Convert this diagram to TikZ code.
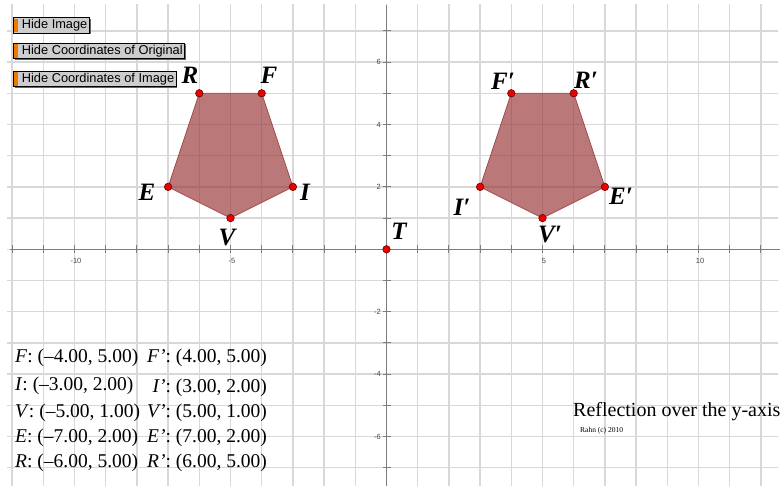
\documentclass[tikz,border=0pt]{standalone}
\usepackage{fontspec}
\setmainfont{Liberation Serif}
\setsansfont{Liberation Sans}
\usetikzlibrary{shadows}
\definecolor{gridc}{RGB}{216,216,216}
\definecolor{axisc}{RGB}{125,125,125}
\definecolor{polyc}{RGB}{150,50,50}
\definecolor{ptfill}{RGB}{235,0,0}
\definecolor{ptdraw}{RGB}{110,0,0}
\definecolor{btnfill}{RGB}{205,205,205}
\definecolor{btnorange}{RGB}{240,120,0}
\definecolor{ticklab}{RGB}{70,70,70}
\begin{document}
\begin{tikzpicture}[x=1pt,y=-1pt,
  gridline/.style={draw=gridc, line width=1.3pt},
  axisline/.style={draw=axisc, line width=1.1pt},
  poly/.style={fill=polyc, fill opacity=0.66, draw=polyc, draw opacity=0.8, line width=0.8pt},
  vertex/.style={circle, fill=ptfill, draw=ptdraw, line width=0.6pt, inner sep=0pt, minimum size=7.5pt},
  ptlabel/.style={font=\fontsize{25}{25}\selectfont\bfseries\itshape, inner sep=0pt},
  ticklabel/.style={font=\sffamily\fontsize{7.5}{8}\selectfont, text=ticklab, inner sep=0pt},
  btn/.style={draw=black, line width=0.8pt, fill=btnfill, font=\sffamily\fontsize{12.8}{13}\selectfont, inner xsep=0pt, inner ysep=0pt, minimum height=15.5pt, anchor=west, drop shadow={shadow xshift=1.2pt, shadow yshift=-1.2pt, fill=black!60, opacity=1}},
  coordtxt/.style={font=\fontsize{19.5}{19.5}\selectfont, anchor=base west, inner sep=0pt},
  ]
\useasboundingbox (0,0) rectangle (780,486);
\begin{scope}[shift={(386.5,249.3)}, x=31.2pt, y=31.2pt]
  \begin{scope}
    \clip (-12.16,-7.7) rectangle (12.55,7.86);
    \foreach \i in {-12,...,12} \draw[gridline] (\i,-8) -- (\i,8);
    \foreach \j in {-7,...,7} \draw[gridline] (-13,\j) -- (13,\j);
  \end{scope}
  \draw[axisline] (-12.07,0) -- (12.6,0);
  \draw[axisline] (0,7.83) -- (0,-7.7);
  \foreach \i in {-12,...,12} \draw[axisline] (\i,0) ++(0,4pt) -- ++(0,-8pt);
  \foreach \j in {-7,...,7} \draw[axisline] (0,\j) ++(-4pt,0) -- ++(8pt,0);
  \foreach \i/\t/\n in {-10/-10/a,-5/-5/b,5/5/c,10/10/d}
    \node[ticklabel] (xl\n) at ([xshift=1.5pt,yshift=-11.5pt]\i,0) {\t};
  \foreach \j/\t/\n in {6/6/a,4/4/b,2/2/c,-2/-2/d,-4/-4/e,-6/-6/f}
    \node[ticklabel, anchor=east] (yl\n) at ([xshift=-5.5pt]0,\j) {\t};
  % original
  \coordinate (Fc) at (-4,5);
  \coordinate (Ic) at (-3,2);
  \coordinate (Vc) at (-5,1);
  \coordinate (Ec) at (-7,2);
  \coordinate (Rc) at (-6,5);
  % image
  \coordinate (Fp) at (4,5);
  \coordinate (Ip) at (3,2);
  \coordinate (Vp) at (5,1);
  \coordinate (Ep) at (7,2);
  \coordinate (Rp) at (6,5);
  \draw[poly] (Fc) -- (Ic) -- (Vc) -- (Ec) -- (Rc) -- cycle;
  \draw[poly] (Fp) -- (Ip) -- (Vp) -- (Ep) -- (Rp) -- cycle;
  \foreach \c in {Fc,Ic,Vc,Ec,Rc,Fp,Ip,Vp,Ep,Rp}
    \node[vertex] (d\c) at (\c) {};
  \node[vertex] (T) at (0,0) {};
\end{scope}
% vertex labels
\node[ptlabel] (lR) at (190,75) {R};
\node[ptlabel] (lF) at (269,75) {F};
\node[ptlabel] (lE) at (147,192) {E};
\node[ptlabel] (lI) at (305,192) {I};
\node[ptlabel] (lV) at (227,238) {V};
\node[ptlabel] (lT) at (399,231) {T};
\node[ptlabel] (lFp) at (503,81) {F′};
\node[ptlabel] (lRp) at (586,80) {R′};
\node[ptlabel] (lIp) at (462,207) {I′};
\node[ptlabel] (lEp) at (621,196) {E′};
\node[ptlabel] (lVp) at (550,235) {V′};
% buttons
\node[btn] (b1) at (13,25.5) {\hspace*{8.5pt}Hide Image\hspace*{2pt}};
\node[btn] (b2) at (13,51) {\hspace*{8.5pt}Hide Coordinates of Original\hspace*{2pt}};
\node[btn] (b3) at (13,79) {\hspace*{8.5pt}Hide Coordinates of Image\hspace*{2pt}};
\foreach \b in {b1,b2,b3}
  \fill[btnorange] ([xshift=1.2pt,yshift=-1.5pt]\b.north west) rectangle ([xshift=5.2pt,yshift=1.5pt]\b.south west);
% coordinate list
\node[coordtxt] (cF) at (15,363) {\textit{F}: (–4.00, 5.00)};
\node[coordtxt] (cI) at (15,391) {\textit{I}: (–3.00, 2.00)};
\node[coordtxt] (cV) at (15,418) {\textit{V}: (–5.00, 1.00)};
\node[coordtxt] (cE) at (15,443) {\textit{E}: (–7.00, 2.00)};
\node[coordtxt] (cR) at (15,468) {\textit{R}: (–6.00, 5.00)};
\node[coordtxt] (cFp) at (147,363) {\textit{F'}: (4.00, 5.00)};
\node[coordtxt] (cIp) at (152.5,393) {\textit{I'}: (3.00, 2.00)};
\node[coordtxt] (cVp) at (147,418) {\textit{V'}: (5.00, 1.00)};
\node[coordtxt] (cEp) at (147,443) {\textit{E'}: (7.00, 2.00)};
\node[coordtxt] (cRp) at (147,468) {\textit{R'}: (6.00, 5.00)};
% caption
\node[anchor=base west, inner sep=0pt, font=\fontsize{20}{20}\selectfont] (refl) at (573,416.5) {Reflection over the y-axis};
\node[anchor=west, inner sep=0pt, font=\fontsize{7.5}{8}\selectfont] (rahn) at (580,431) {Rahn (c) 2010};
\end{tikzpicture}
\end{document}
